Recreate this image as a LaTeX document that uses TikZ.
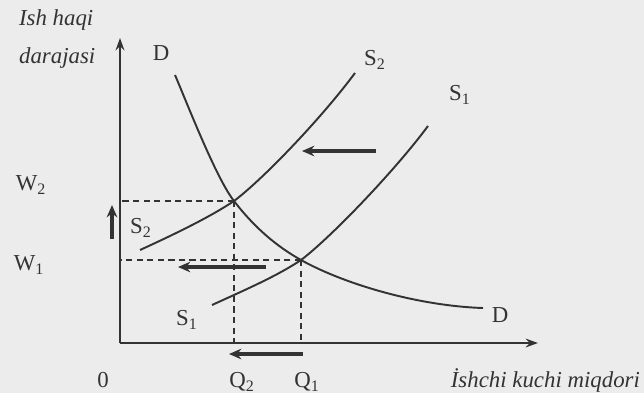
\documentclass[tikz,border=0pt]{standalone}
\usepackage{fontspec}
\setmainfont{Liberation Serif}
\usepackage{tikz}
\usetikzlibrary{arrows.meta,positioning}
\definecolor{PaperGray}{HTML}{ECECEC}
\definecolor{InkGray}{HTML}{333333}

\begin{document}
\begin{tikzpicture}[
  x=0.02cm, y=-0.02cm,
  axis/.style={draw=InkGray, line width=1.1pt, -{Stealth[length=7pt,width=5pt]}},
  curve/.style={draw=InkGray, line width=1.1pt},
  guide/.style={draw=InkGray, line width=0.8pt, dash pattern=on 3.5pt off 2.5pt},
  movearrow/.style={draw=InkGray, line width=2pt, -{Stealth[length=7pt,width=6pt]}},
  lab/.style={font=\fontsize{13}{15}\selectfont, text=InkGray, inner sep=1pt},
  axlab/.style={font=\fontsize{13}{15}\selectfont\itshape, text=InkGray, inner sep=1pt},
  >=Stealth
]
  % page
  \fill[PaperGray] (0,0) rectangle (644,393);
  \useasboundingbox (0,0) rectangle (644,393);

  % axes
  \coordinate (O) at (120,343);
  \coordinate (ytop) at (120,38);
  \coordinate (xend) at (538,343);
  \draw[axis] (O) -- (ytop);
  \draw[axis] (O) -- (xend);

  \node[axlab, anchor=west] (ylab1) at (17,20) {Ish haqi};
  \node[axlab, anchor=west] (ylab2) at (17,58) {darajasi};
  \node[axlab, anchor=east] (xlab) at (642,380) {İshchi kuchi miqdori};
  \node[lab] (zero) at (103,380) {0};

  % equilibrium points
  \coordinate (E2) at (234,201);
  \coordinate (E1) at (301,260);

  % demand and supply curves
  \draw[curve] (175,75) .. controls (187,103) and (216,178) .. (E2)
    .. controls (254,227) and (276,246) .. (E1)
    .. controls (346,285) and (420,306) .. (483,308);
  \draw[curve] (140,250) .. controls (175,234) and (210,217) .. (E2)
    .. controls (262,180) and (320,120) .. (355,73);
  \draw[curve] (212,305) .. controls (247,289) and (277,276) .. (E1)
    .. controls (329,239) and (393,173) .. (428,126);

  \node[lab] (Dtop) at (161,53) {D};
  \node[lab] (Dbot) at (500,315) {D};
  \node[lab] (S2top) at (375,60) {S\textsubscript{2}};
  \node[lab] (S1top) at (460,95) {S\textsubscript{1}};
  \node[lab] (S2low) at (141,228) {S\textsubscript{2}};
  \node[lab] (S1low) at (187,320) {S\textsubscript{1}};

  % wage and quantity guides
  \node[lab] (W2) at (31,185) {W\textsubscript{2}};
  \node[lab] (W1) at (29,265) {W\textsubscript{1}};
  \node[lab] (Q2) at (242,382) {Q\textsubscript{2}};
  \node[lab] (Q1) at (307,382) {Q\textsubscript{1}};
  \draw[guide] (E2) -- (E2 -| O);
  \draw[guide] (E2) -- (E2 |- O);
  \draw[guide] (E1) -- (E1 -| O);
  \draw[guide] (E1) -- (E1 |- O);

  % shift arrows
  \coordinate (up0) at (112,239);
  \coordinate (up1) at (112,205);
  \draw[movearrow] (up0) -- (up1);
  \coordinate (top0) at (376,151);
  \coordinate (top1) at (302,151);
  \draw[movearrow] (top0) -- (top1);
  \coordinate (mid0) at (266,267);
  \coordinate (mid1) at (178,267);
  \draw[movearrow] (mid0) -- (mid1);
  \coordinate (bot0) at (303,354);
  \coordinate (bot1) at (229,354);
  \draw[movearrow] (bot0) -- (bot1);
\end{tikzpicture}
\end{document}
